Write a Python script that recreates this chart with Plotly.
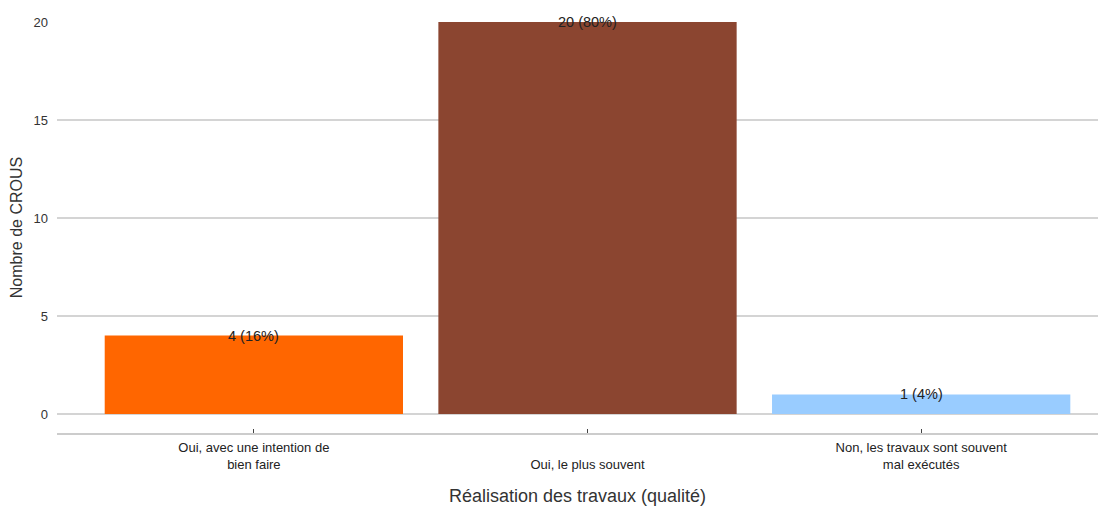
import plotly.graph_objects as go

categories = ["Oui, avec une intention de<br>bien faire", "<br>Oui, le plus souvent", "Non, les travaux sont souvent<br>mal exécutés"]
values = [4, 20, 1]
labels = ["4 (16%)", "20 (80%)", "1 (4%)"]
colors = ["#FF6600", "#8B4530", "#99CCFF"]

fig = go.Figure()
fig.add_trace(go.Bar(x=[0, 1, 2], y=values, marker=dict(color=colors, line=dict(width=0)),
                     width=0.894, showlegend=False, hoverinfo="skip"))
for i, (v, t) in enumerate(zip(values, labels)):
    fig.add_annotation(x=i, y=v, text=t, showarrow=False, yanchor="middle",
                       font=dict(family="Liberation Sans, Arial", size=14.5, color="#222222"))

fig.update_layout(
    width=1102, height=504,
    margin=dict(l=49, r=12, t=14, b=79, autoexpand=False),
    plot_bgcolor="white", paper_bgcolor="white",
    font=dict(family="Liberation Sans, Arial", color="#333333"),
    xaxis=dict(range=[-0.59, 2.53], tickmode="array", tickvals=[0, 1, 2], ticktext=categories,
               showgrid=False, zeroline=False, showline=True, linecolor="#cccccc", linewidth=2,
               ticks="inside", ticklen=4, tickcolor="#444444", tickwidth=1,
               tickfont=dict(size=13, color="#222222"), ticklabelstandoff=1,
               automargin=False,
               title=dict(text="Réalisation des travaux (qualité)", font=dict(size=18, color="#333333"), standoff=19)),
    yaxis=dict(range=[-0.97, 20], tickvals=[0, 5, 10, 15, 20], showgrid=True, gridcolor="#d4d4d4", gridwidth=1.5,
               zeroline=False, showline=False, ticks="", tickfont=dict(size=13, color="#333333"),
               ticklabelstandoff=8, automargin=False,
               title=dict(text="Nombre de CROUS", font=dict(size=16, color="#333333"), standoff=8)),
)
fig.write_html("out.html")
